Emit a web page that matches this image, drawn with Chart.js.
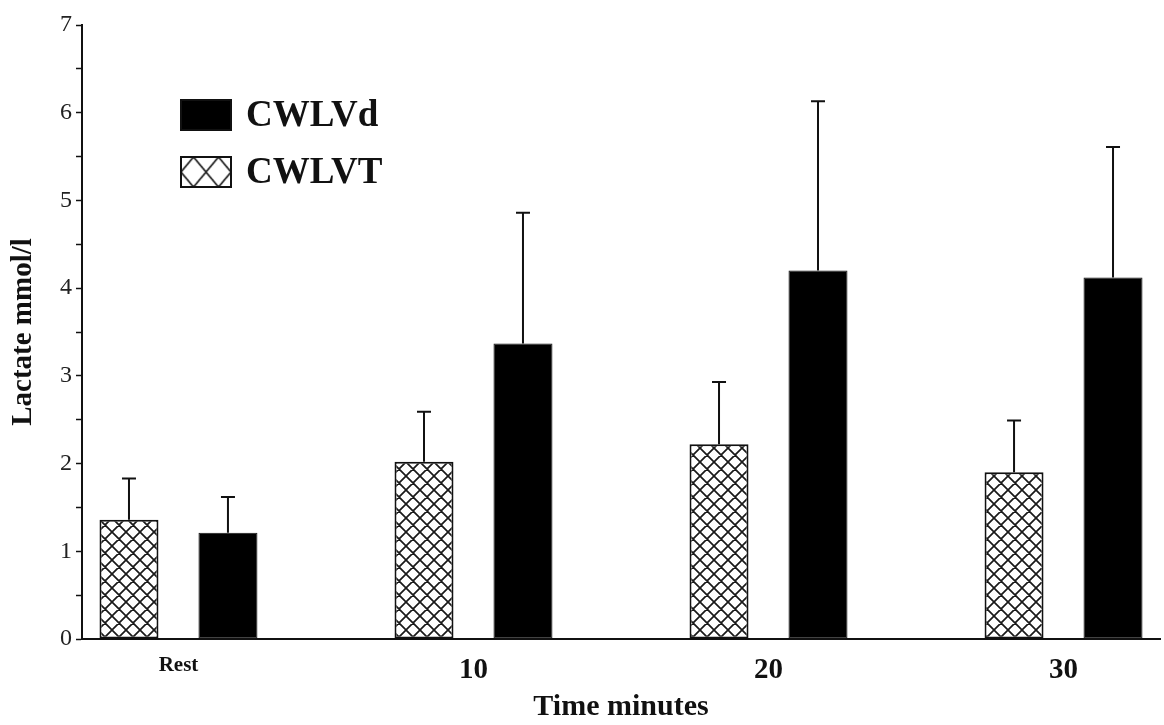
<!DOCTYPE html>
<html>
<head>
<meta charset="utf-8">
<script src="https://cdn.jsdelivr.net/npm/chart.js@4"></script>
<style>
  html, body { margin: 0; padding: 0; background: #fff; }
  #wrap { width: 1164px; height: 725px; }
</style>
</head>
<body>
<div id="wrap"><canvas id="myChart"></canvas></div>
<script>
const timeLabels = ['Rest', '10', '20', '30']
const seriesNames = ['CWLVT', 'CWLVd']
const meanT = [1.36, 2.02, 2.22, 1.90]
const sdT = [0.47, 0.57, 0.71, 0.59]
const meanD = [1.21, 3.37, 4.20, 4.12]
const sdD = [0.41, 1.49, 1.93, 1.49]
const yTicks = [0, 1, 2, 3, 4, 5, 6, 7]

const serif = "'Liberation Serif', 'DejaVu Serif', serif"
const ink = '#111'
const ctx2d = document.getElementById('myChart').getContext('2d')

// cross-hatch fill; w x h is one diamond
const makeHatch = (w, h) => {
    const tile = document.createElement('canvas')
    tile.width = w
    tile.height = h
    const c = tile.getContext('2d')
    c.fillStyle = '#fff'
    c.fillRect(0, 0, w, h)
    c.strokeStyle = '#1a1a1a'
    c.lineWidth = 1.7
    c.beginPath()
    c.moveTo(0, 0); c.lineTo(w, h)
    c.moveTo(w, 0); c.lineTo(0, h)
    c.moveTo(-w, 0); c.lineTo(w, 2 * h)
    c.moveTo(0, -h); c.lineTo(2 * w, h)
    c.moveTo(2 * w, 0); c.lineTo(0, 2 * h)
    c.moveTo(0, -h); c.lineTo(-w, 0)
    c.moveTo(w, -h); c.lineTo(-w, h)
    c.moveTo(2 * w, -h); c.lineTo(0, h)
    c.stroke()
    return ctx2d.createPattern(tile, 'repeat')
}
const hatch = makeHatch(14, 14)
const legendHatch = makeHatch(25, 30)

const toPoints = (vals) => vals.map((v, i) => ({ x: i, y: v }))

// upward error bars with a small cap
const errorBars = {
    id: 'errorBars',
    afterDatasetsDraw(chart) {
        const ctx = chart.ctx
        const yScale = chart.scales.y
        const sds = [sdT, sdD]
        ctx.save()
        ctx.strokeStyle = ink
        ctx.lineWidth = 2
        chart.data.datasets.forEach((ds, di) => {
            chart.getDatasetMeta(di).data.forEach((bar, i) => {
                const top = yScale.getPixelForValue(ds.data[i].y + sds[di][i])
                ctx.beginPath()
                ctx.moveTo(bar.x, bar.y)
                ctx.lineTo(bar.x, top)
                ctx.moveTo(bar.x - 7, top)
                ctx.lineTo(bar.x + 7, top)
                ctx.stroke()
            })
        })
        ctx.restore()
    }
}

// legend inside the plot, top left, CWLVd listed first
const innerLegend = {
    id: 'innerLegend',
    afterDraw(chart) {
        const ctx = chart.ctx
        const items = chart.data.datasets.slice().reverse()
        ctx.save()
        items.forEach((ds, k) => {
            const y = 100 + k * 57
            ctx.fillStyle = ds.backgroundColor === hatch ? legendHatch : ds.backgroundColor
            ctx.save()
            ctx.translate(181 + 12.5, y)
            ctx.fillRect(-12.5, 0, 50, 30)
            ctx.restore()
            ctx.lineWidth = 2
            ctx.strokeStyle = ink
            ctx.strokeRect(181, y, 50, 30)
            ctx.fillStyle = ink
            ctx.font = 'bold 37px ' + serif
            ctx.textBaseline = 'middle'
            ctx.fillText(ds.label, 246, y + 16)
        })
        ctx.restore()
    }
}

const datasets = [
    {
        label: seriesNames[0],
        data: toPoints(meanT),
        backgroundColor: hatch,
        borderColor: ink,
        borderWidth: 2,
        borderSkipped: false
    },
    {
        label: seriesNames[1],
        data: toPoints(meanD),
        backgroundColor: '#000',
        borderColor: ink,
        borderWidth: 1,
        borderSkipped: false
    }
]

new Chart(document.getElementById('myChart'), {
    type: 'bar',
    data: { datasets },
    plugins: [errorBars, innerLegend],
    options: {
        responsive: true,
        maintainAspectRatio: false,
        animation: false,
        categoryPercentage: 0.671,
        barPercentage: 0.596,
        layout: { padding: { top: 25, right: 4, left: 0, bottom: 0 } },
        plugins: {
            legend: { display: false },
            tooltip: { enabled: false }
        },
        scales: {
            x: {
                type: 'linear',
                offset: false,
                min: -0.327,
                max: 3.327,
                grid: { display: false },
                border: { display: true, color: ink, width: 2 },
                afterBuildTicks: (scale) => {
                    scale.ticks = timeLabels.map((_, i) => ({ value: i }))
                },
                afterFit: (scale) => { scale.height = 86 },
                ticks: {
                    autoSkip: false,
                    maxRotation: 0,
                    padding: 6,
                    color: ink,
                    font: (c) => c.index === 0
                        ? { family: serif, size: 21, weight: 'bold' }
                        : { family: serif, size: 29, weight: 'bold' },
                    callback: (v) => timeLabels[v]
                },
                title: {
                    display: true,
                    text: 'Time minutes',
                    color: ink,
                    font: { family: serif, size: 30, weight: 'bold' },
                    padding: { top: 0, bottom: 0 }
                }
            },
            y: {
                min: yTicks[0],
                max: yTicks[yTicks.length - 1],
                grid: {
                    drawOnChartArea: false,
                    drawTicks: true,
                    tickLength: 6,
                    tickColor: ink,
                    tickWidth: 1.5
                },
                border: { display: true, color: ink, width: 2 },
                afterFit: (scale) => { scale.width = 82 },
                ticks: {
                    stepSize: 0.5,
                    padding: 4,
                    color: '#222',
                    font: { family: serif, size: 24 },
                    callback: (v) => yTicks.includes(v) ? String(v) : ''
                },
                title: {
                    display: true,
                    text: 'Lactate mmol/l',
                    color: ink,
                    font: { family: serif, size: 29, weight: 'bold' },
                    padding: { top: 6, bottom: 0 }
                }
            }
        }
    }
})
</script>
</body>
</html>
